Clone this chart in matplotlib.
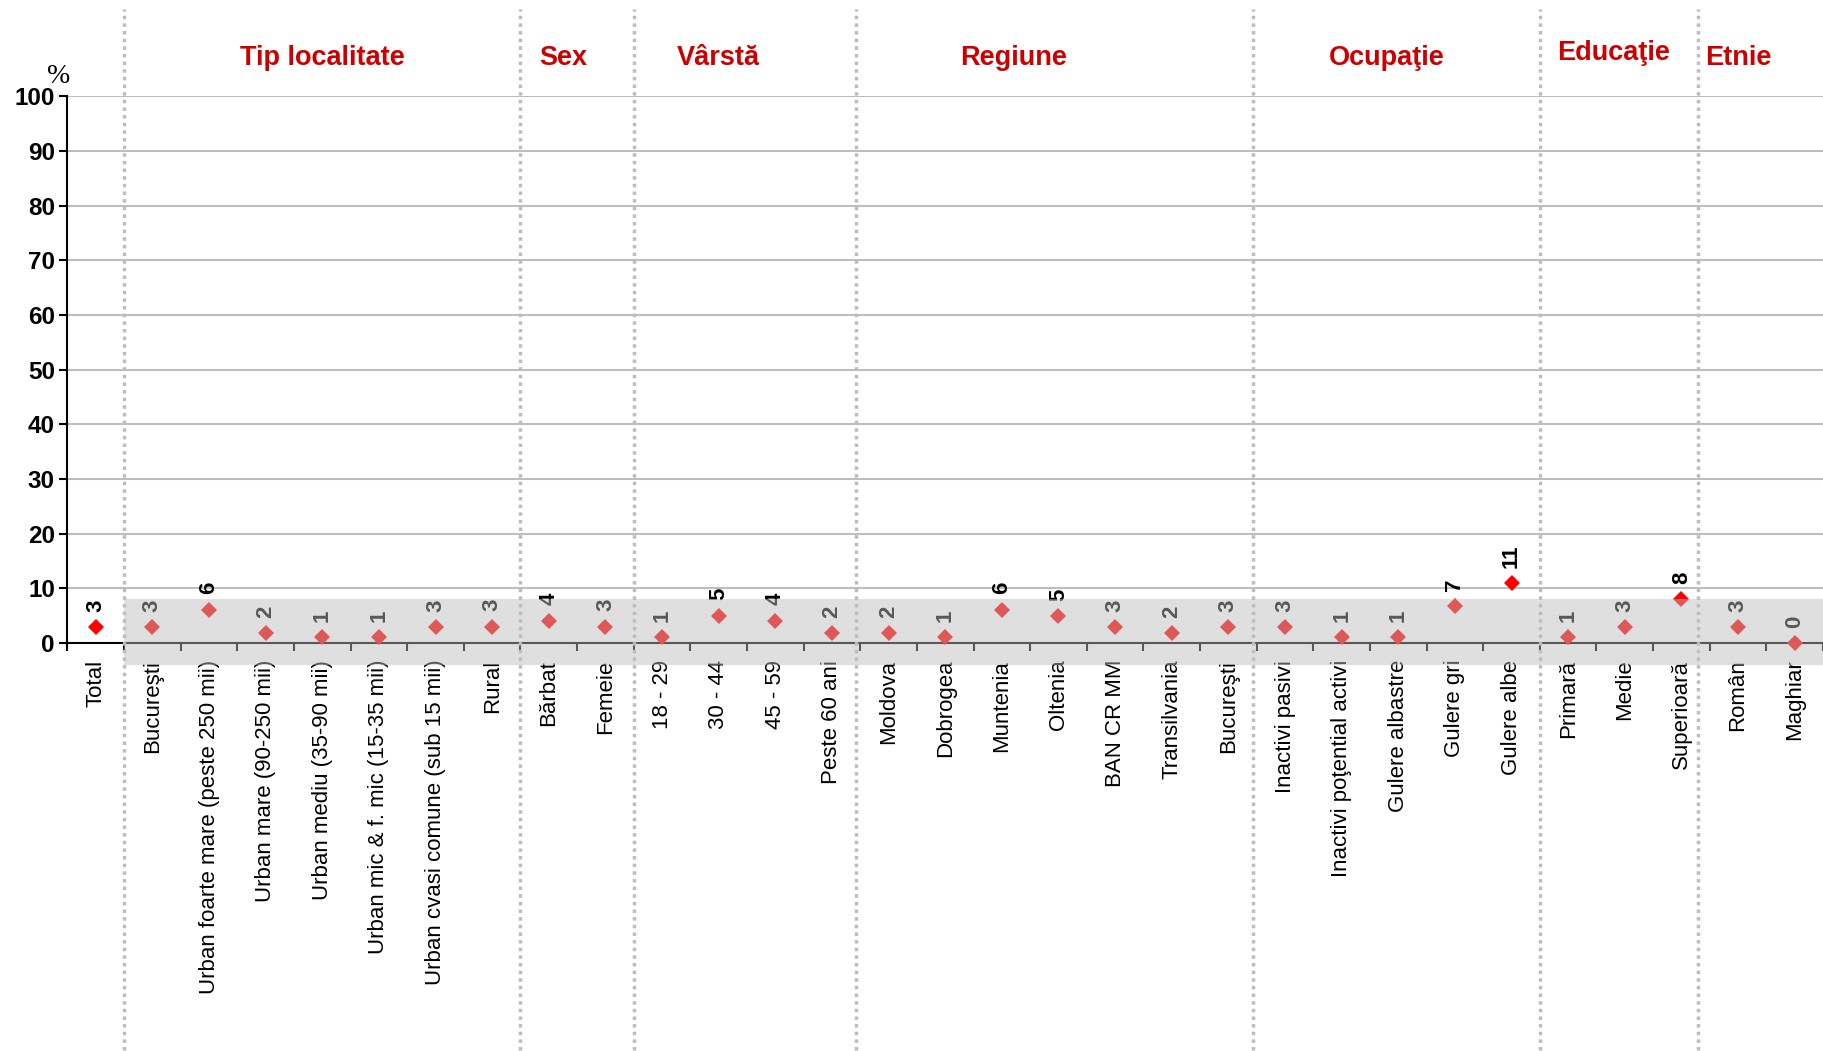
import numpy as np
import matplotlib
matplotlib.use('Agg')
import matplotlib.pyplot as plt
from matplotlib.patches import Rectangle

plt.rcParams['font.family'] = ['Liberation Sans', 'DejaVu Sans']

# categories, grouped
labels = ['Total',
          'Bucureşti', 'Urban foarte mare (peste 250 mii)', 'Urban mare (90-250 mii)',
          'Urban mediu (35-90 mii)', 'Urban mic & f. mic (15-35 mii)',
          'Urban cvasi comune (sub 15 mii)', 'Rural',
          'Bărbat', 'Femeie',
          '18 - 29', '30 - 44', '45 - 59', 'Peste 60 ani',
          'Moldova', 'Dobrogea', 'Muntenia', 'Oltenia', 'BAN CR MM', 'Transilvania', 'Bucureşti',
          'Inactivi pasivi', 'Inactivi poţential activi', 'Gulere albastre', 'Gulere gri', 'Gulere albe',
          'Primară', 'Medie', 'Superioară',
          'Român', 'Maghiar']
values = [2.9,
          2.9, 6.1, 1.8, 1.1, 1.1, 2.9, 3.0,
          4.1, 3.0,
          1.1, 5.0, 4.1, 1.8,
          1.8, 1.1, 6.1, 4.9, 2.9, 1.8, 2.9,
          2.9, 1.1, 1.1, 6.8, 10.9,
          1.1, 2.9, 8.0,
          2.9, 0.0]
groups = ['Tip localitate', 'Sex', 'Vârstă', 'Regiune', 'Ocupaţie', 'Educaţie', 'Etnie']
group_sizes = [7, 2, 4, 7, 5, 3, 2]

# layout of the group titles and separators (category units / data units)
title_x = [4.0, 8.25, 11.0, 16.2, 22.8, 26.8, 29.0]
title_y = [107, 107, 107, 107, 107, 108, 107]
sep_nudge = [0, 0, 0, -0.08, -0.07, 0, -0.2]

fig = plt.figure(figsize=(18.23, 10.51), dpi=100)
ax = fig.add_axes([0.037, 0.3882, 0.963, 0.52])

x = np.arange(len(labels))
ax.plot(x, values, linestyle='none', marker='D', markersize=8,
        color='#FF0000', markeredgewidth=0, zorder=5, clip_on=False)
for xi, v in zip(x, values):
    ax.annotate(f'{v:.0f}', (xi, v), xytext=(0, 11), textcoords='offset points',
                rotation=90, ha='center', va='bottom', fontsize=16,
                fontweight='bold', color='black', zorder=6)

ax.set_xlim(-0.5, 30.33)
ax.set_ylim(0, 100)
ax.set_yticks(np.arange(0, 101, 10))
ax.yaxis.grid(True, color='#BEBEBE', linewidth=1.5)
ax.set_axisbelow(True)
for lbl in ax.get_yticklabels():
    lbl.set_fontweight('bold')
ax.tick_params(axis='y', labelsize=17.5, length=6, width=1.5, pad=3, direction='out')

ax.set_xticks(x)
ax.set_xticklabels(labels, rotation=90, fontsize=16)
ax.set_xticks(np.arange(-0.5, len(labels), 1), minor=True)
ax.tick_params(axis='x', which='major', length=0, pad=12)
ax.tick_params(axis='x', which='minor', length=6, width=1.5, direction='out')

for s in ['top', 'right']:
    ax.spines[s].set_visible(False)
ax.spines['left'].set_linewidth(1.5)
ax.spines['bottom'].set_linewidth(1.5)

# dotted separators between groups
bounds = np.cumsum([1] + group_sizes)[:-1] - 0.5 + np.array(sep_nudge)
for b in bounds:
    ax.plot([b, b], [-74.5, 116], linestyle=(0, (1, 1.2)), color='#BDBDBD',
            linewidth=2.5, clip_on=False, zorder=4)

for g, tx, ty in zip(groups, title_x, title_y):
    ax.text(tx, ty, g, ha='center', va='center', fontsize=19.5, fontweight='bold',
            color='#CC0000', clip_on=False)

# translucent band over everything except Total
band = Rectangle((0.5, -4), 31, 12, facecolor='#BDBDBD', alpha=0.47,
                 edgecolor='none', clip_on=False, zorder=10)
ax.add_patch(band)

fig.text(0.032, 0.927, '%', fontsize=20, family='Liberation Serif', ha='center', va='center')

fig.savefig('out.png', dpi=100)
